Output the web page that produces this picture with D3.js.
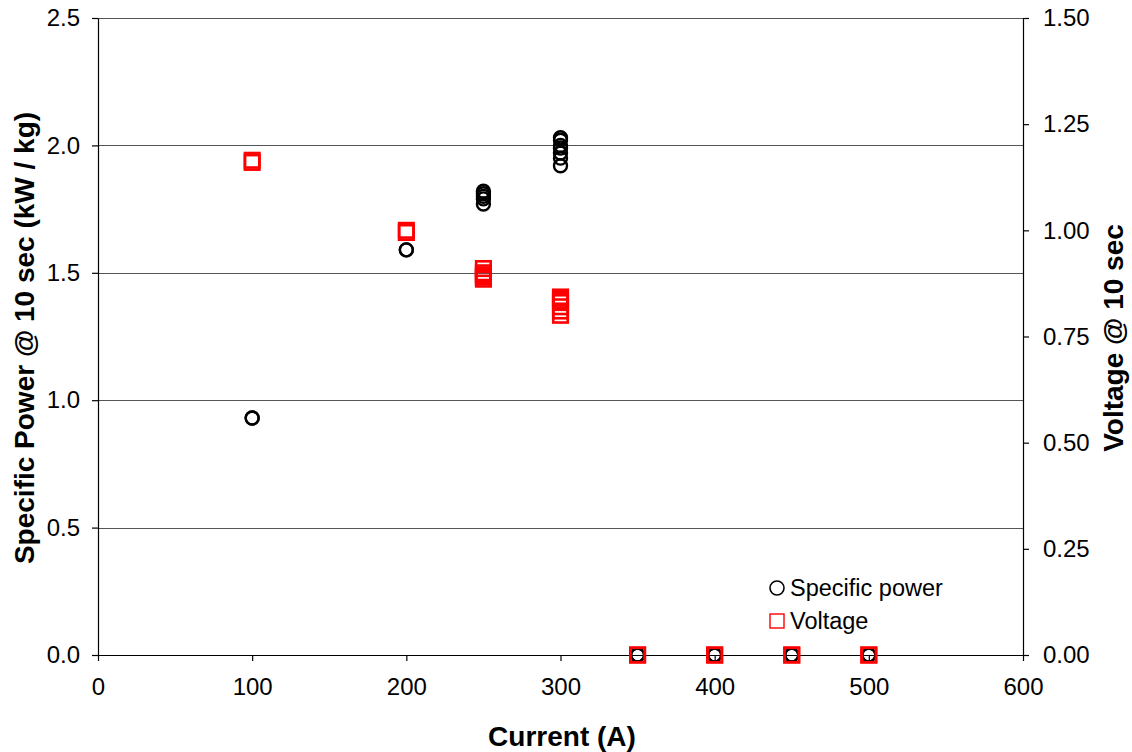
<!DOCTYPE html>
<html>
<head>
<meta charset="utf-8">
<script src="https://cdn.jsdelivr.net/npm/d3@7"></script>
<style>
  body { margin: 0; background: #fff; }
  text { font-family: "Liberation Sans", Arial, sans-serif; }
</style>
</head>
<body>
<div id="chart"></div>
<script>
// Test points: current (A), specific power @ 10 s (kW/kg), voltage @ 10 s
const current = [100, 100, 200, 200, 250, 250, 250, 250, 250, 300, 300, 300, 300, 300, 300, 300, 350, 350, 400, 400, 450, 450, 500, 500];
const specificPower = [0.93, 0.93, 1.59, 1.59, 1.77, 1.79, 1.80, 1.81, 1.82, 1.92, 1.95, 1.97, 1.99, 2.00, 2.02, 2.03, 0, 0, 0, 0, 0, 0, 0, 0];
const voltage = [1.16, 1.165, 0.995, 1.0, 0.885, 0.89, 0.895, 0.90, 0.91, 0.80, 0.81, 0.82, 0.83, 0.835, 0.84, 0.843, 0, 0, 0, 0, 0, 0, 0, 0];

const xTicks = [0, 100, 200, 300, 400, 500, 600];
const leftTicks = [0, 0.5, 1.0, 1.5, 2.0, 2.5];
const rightTicks = [0, 0.25, 0.5, 0.75, 1.0, 1.25, 1.5];

const width = 1132, height = 752;
const margin = { top: 18, right: 109, bottom: 97, left: 98 };
const w = width - margin.left - margin.right;
const h = height - margin.top - margin.bottom;

const svg = d3.select("#chart").append("svg")
    .attr("width", width)
    .attr("height", height);

const g = svg.append("g").attr("transform", `translate(${margin.left},${margin.top})`);

const x = d3.scaleLinear().domain([0, 600]).range([0, w]);
const yL = d3.scaleLinear().domain([0, 2.5]).range([h, 0]);
const yR = d3.scaleLinear().domain([0, 1.5]).range([h, 0]);

// gridlines
g.append("g").selectAll("line")
    .data(leftTicks.filter(d => d > 0))
    .enter().append("line")
    .attr("x1", 0).attr("x2", w)
    .attr("y1", d => Math.round(yL(d)) + 0.5)
    .attr("y2", d => Math.round(yL(d)) + 0.5)
    .attr("stroke", "#555")
    .attr("stroke-width", 1);

// axes
const styleAxis = sel => {
    sel.selectAll("path, line").attr("stroke", "#000").attr("stroke-width", 1.2);
    sel.selectAll("text").attr("font-size", 24).attr("fill", "#000")
        .attr("font-family", "'Liberation Sans', Arial, sans-serif");
};

g.append("g")
    .attr("transform", `translate(0,${h})`)
    .call(d3.axisBottom(x).tickValues(xTicks).tickFormat(d3.format("d")).tickSize(6).tickSizeOuter(0).tickPadding(17))
    .call(styleAxis);

g.append("g")
    .call(d3.axisLeft(yL).tickValues(leftTicks).tickFormat(d3.format(".1f")).tickSize(6).tickSizeOuter(0).tickPadding(12))
    .call(styleAxis);

g.append("g")
    .attr("transform", `translate(${w},0)`)
    .call(d3.axisRight(yR).tickValues(rightTicks).tickFormat(d3.format(".2f")).tickSize(6).tickSizeOuter(0).tickPadding(14))
    .call(styleAxis);

// axis titles
svg.append("text")
    .attr("x", 562)
    .attr("y", 746)
    .attr("text-anchor", "middle")
    .attr("font-size", 28).attr("font-weight", "bold")
    .text("Current (A)");

svg.append("text")
    .attr("transform", `translate(34,338) rotate(-90)`)
    .attr("text-anchor", "middle")
    .attr("font-size", 28).attr("font-weight", "bold")
    .text("Specific Power @ 10 sec (kW / kg)");

svg.append("text")
    .attr("transform", `translate(1123,338) rotate(-90)`)
    .attr("text-anchor", "middle")
    .attr("font-size", 28).attr("font-weight", "bold")
    .text("Voltage @ 10 sec");

const pts = current.map((c, i) => ({ c: c, p: specificPower[i], v: voltage[i] }));

// specific power circles
g.append("g").selectAll("circle")
    .data(pts)
    .enter().append("circle")
    .attr("cx", d => x(d.c))
    .attr("cy", d => yL(d.p))
    .attr("r", 6.5)
    .attr("fill", "none")
    .attr("stroke", "#000")
    .attr("stroke-width", 2.4);

// voltage squares
const sq = 14.5;
g.append("g").selectAll("rect")
    .data(pts)
    .enter().append("rect")
    .attr("x", d => x(d.c) - sq / 2)
    .attr("y", d => yR(d.v) - sq / 2)
    .attr("width", sq).attr("height", sq)
    .attr("fill", "none")
    .attr("stroke", "#ff0000")
    .attr("stroke-width", 2.6);

// legend
const legend = svg.append("g").attr("transform", "translate(777,588)");
legend.append("circle").attr("cx", 0).attr("cy", 0).attr("r", 7)
    .attr("fill", "none").attr("stroke", "#000").attr("stroke-width", 1.6);
legend.append("text").attr("x", 13).attr("y", 8).attr("font-size", 23.5).text("Specific power");
legend.append("rect").attr("x", -7).attr("y", 26).attr("width", 14).attr("height", 14)
    .attr("fill", "none").attr("stroke", "#ff0000").attr("stroke-width", 1.4);
legend.append("text").attr("x", 13).attr("y", 41).attr("font-size", 23.5).text("Voltage");
</script>
</body>
</html>
